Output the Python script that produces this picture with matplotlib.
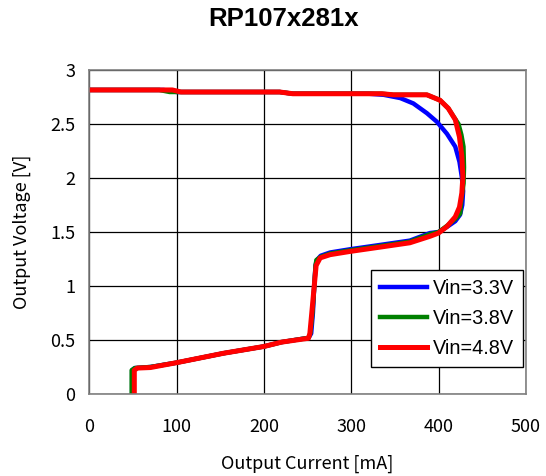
import matplotlib
matplotlib.use("Agg")
import matplotlib.pyplot as plt

# output current [mA] / output voltage [V]
i_33 = [0, 85, 100, 218, 233, 320, 337, 356, 371, 386.5, 398, 409.4, 419, 423.8, 426.5,
        428, 427, 424.5, 419, 410, 400, 390, 367, 333, 298.6, 275.7, 265, 260.5,
        259, 257.5, 256, 254, 251, 220, 200, 153.6, 100, 70, 52, 49, 49]
v_33 = [2.815, 2.815, 2.796, 2.796, 2.78, 2.78, 2.77, 2.74, 2.69, 2.60, 2.52, 2.41, 2.29, 2.15, 2.01,
        1.88, 1.75, 1.66, 1.60, 1.55, 1.50, 1.49, 1.42, 1.38, 1.34, 1.31, 1.28, 1.24,
        1.19, 1.0, 0.75, 0.56, 0.52, 0.48, 0.44, 0.377, 0.29, 0.25, 0.24, 0.22, 0.0]

i_38 = [0, 80, 92, 218, 233, 335, 348, 386.5, 401.5, 411, 417, 422.7, 426, 428.4, 429,
        428.5, 426, 424.6, 419, 410, 400, 390, 367, 333, 298.6, 275.7, 265, 260,
        259, 257.5, 255.5, 253, 251, 220, 200, 153.6, 100, 70, 52, 48.5, 48.5]
v_38 = [2.815, 2.815, 2.796, 2.796, 2.78, 2.78, 2.77, 2.77, 2.72, 2.645, 2.57, 2.50, 2.40, 2.29, 2.10,
        1.95, 1.80, 1.67, 1.62, 1.56, 1.50, 1.48, 1.41, 1.37, 1.33, 1.30, 1.27, 1.24,
        1.19, 0.99, 0.75, 0.56, 0.52, 0.48, 0.44, 0.377, 0.29, 0.25, 0.24, 0.22, 0.0]

i_48 = [0, 95, 105, 218, 233, 335, 348, 386.5, 401.5, 411, 419, 423.8, 426.5, 427.7,
        426.5, 423.8, 419, 409.4, 399.8, 390, 367, 333, 298.6, 275.7, 264.3,
        259.7, 257.4, 254.7, 252.5, 250.9, 220, 200, 153.6, 100, 70, 55, 51.5, 51.5]
v_48 = [2.815, 2.815, 2.796, 2.796, 2.78, 2.78, 2.77, 2.77, 2.72, 2.645, 2.54, 2.38, 2.20, 2.01,
        1.86, 1.73, 1.64, 1.55, 1.49, 1.46, 1.40, 1.36, 1.32, 1.29, 1.26,
        1.19, 0.99, 0.75, 0.56, 0.516, 0.48, 0.44, 0.377, 0.29, 0.245, 0.24, 0.22, 0.0]

labels = ["Vin=3.3V", "Vin=3.8V", "Vin=4.8V"]
colors = ["#0000ff", "#008000", "#ff0000"]

x_ticks = [0, 100, 200, 300, 400, 500]
y_ticks = [0, 0.5, 1, 1.5, 2, 2.5, 3]

jp = ["Noto Sans CJK JP", "DejaVu Sans"]

fig = plt.figure(figsize=(5.46, 4.76), dpi=100)
ax = fig.add_axes([0.1636, 0.1723, 0.7998, 0.6807])

ax.plot(i_33, v_33, color=colors[0], lw=3.2, label=labels[0], solid_joinstyle="round")
ax.plot(i_38, v_38, color=colors[1], lw=3.2, label=labels[1], solid_joinstyle="round")
ax.plot(i_48, v_48, color=colors[2], lw=3.6, label=labels[2], solid_joinstyle="round")

ax.set_xlim(0, 500)
ax.set_ylim(0, 3)
ax.set_xticks(x_ticks)
ax.set_yticks(y_ticks)
ax.set_xticklabels([str(t) for t in x_ticks], family=jp, fontsize=13)
ax.set_yticklabels(["0", "0.5", "1", "1.5", "2", "2.5", "3"], family=jp, fontsize=13)
ax.tick_params(axis="x", length=0, pad=17)
ax.tick_params(axis="y", length=0, pad=10)
ax.grid(True, color="black", lw=0.9)
ax.set_axisbelow(True)
for s in ax.spines.values():
    s.set_color("#808080")
    s.set_linewidth(1.2)

ax.set_xlabel("Output Current [mA]", family=jp, fontsize=13, labelpad=14)
ax.set_ylabel("Output Voltage [V]", family=jp, fontsize=13, labelpad=14)
fig.suptitle("RP107x281x", x=0.52, y=0.985, fontsize=18.5, fontweight="bold",
             family=["Liberation Sans", "DejaVu Sans"])

leg = ax.legend(loc="lower right", bbox_to_anchor=(0.994, 0.084), fancybox=False,
                edgecolor="black", framealpha=1, handlelength=2.4, labelspacing=0.55,
                borderpad=0.45, handletextpad=0.3, borderaxespad=0,
                prop={"family": ["Liberation Sans", "DejaVu Sans"], "size": 14.3})
leg.get_frame().set_linewidth(1.0)

fig.savefig("out.png", dpi=100)
